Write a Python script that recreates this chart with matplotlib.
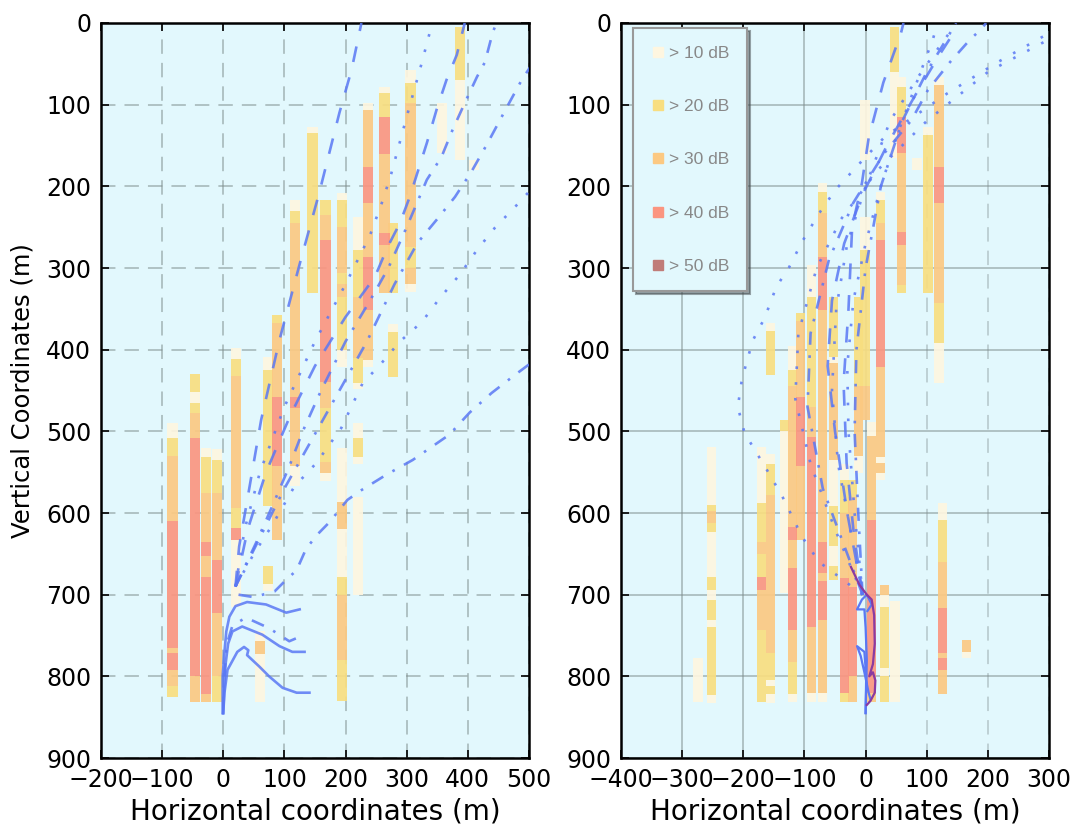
import matplotlib
matplotlib.use("Agg")
import matplotlib.pyplot as plt
from matplotlib.lines import Line2D

# dB level classes and their colours
levels = [1, 2, 3, 4, 5]
level_labels = ["> 10 dB", "> 20 dB", "> 30 dB", "> 40 dB", "> 50 dB"]
level_colors = ["#fef6e0", "#f8de80", "#fcc982", "#fb9580", "#c07c78"]

# left panel: column centres (m) and runs of (top depth, bottom depth, level)
left_col_x = [-83, -46, -28, -10, 21, 60, 73, 88, 117, 146, 167, 194, 220,
              237, 264, 278, 306, 358, 387, 410]
left_col_runs = [
    [(490, 508, 1), (508, 530, 2), (530, 610, 3), (610, 765, 4), (765, 772, 3),
     (772, 792, 4), (792, 812, 3), (812, 825, 2)],
    [(430, 452, 2), (452, 465, 1), (465, 478, 2), (478, 508, 3), (508, 800, 4),
     (800, 832, 3)],
    [(520, 532, 1), (532, 575, 2), (575, 636, 3), (636, 653, 4), (653, 678, 3),
     (678, 822, 4), (822, 832, 3)],
    [(522, 535, 1), (535, 575, 2), (575, 657, 3), (657, 722, 4), (722, 800, 3),
     (800, 832, 2)],
    [(398, 412, 1), (412, 432, 2), (432, 594, 3), (594, 618, 2), (618, 633, 4),
     (633, 715, 1)],
    [(745, 757, 1), (757, 773, 3), (773, 832, 1)],
    [(409, 425, 1), (425, 592, 2), (665, 687, 2), (687, 695, 1)],
    [(357, 367, 2), (367, 458, 3), (458, 543, 4), (543, 633, 3)],
    [(217, 230, 1), (230, 245, 2), (245, 458, 3), (458, 471, 4), (471, 543, 3),
     (543, 567, 1)],
    [(127, 135, 1), (135, 330, 2)],
    [(217, 235, 2), (235, 266, 3), (266, 440, 4), (440, 471, 3), (471, 537, 2),
     (537, 551, 3), (551, 561, 1)],
    [(208, 217, 1), (217, 250, 2), (250, 306, 3), (306, 320, 2), (320, 335, 3),
     (335, 400, 2), (400, 421, 1), (520, 587, 1), (587, 620, 3), (620, 678, 1),
     (678, 700, 2), (700, 780, 3), (780, 830, 2)],
    [(237, 278, 1), (278, 335, 2), (335, 410, 3), (410, 441, 2), (441, 448, 1),
     (490, 508, 1), (508, 531, 2), (531, 540, 1), (580, 700, 1)],
    [(98, 106, 1), (106, 176, 3), (176, 220, 4), (220, 286, 3), (286, 351, 4),
     (351, 413, 3), (413, 421, 1)],
    [(78, 86, 1), (86, 115, 2), (115, 160, 4), (160, 257, 3), (257, 272, 4),
     (272, 331, 3)],
    [(245, 331, 2), (368, 378, 1), (378, 433, 2)],
    [(58, 74, 1), (74, 98, 2), (98, 274, 3), (274, 300, 2), (300, 320, 3),
     (320, 329, 1)],
    [(98, 159, 1)],
    [(5, 70, 2), (70, 168, 1)],
    [(168, 180, 1)],
]

# right panel columns
right_col_x = [-274, -252, -170, -156, -132, -120, -106, -88, -70, -52, -34,
               -21, -11, -1, 9, 24, 31, 47, 48, 59, 84, 102, 120, 126, 165]
right_col_runs = [
    [(777, 831, 1)],
    [(519, 590, 1), (590, 598, 2), (598, 612, 3), (612, 623, 2), (623, 678, 1),
     (678, 694, 2), (694, 706, 1), (706, 731, 2), (731, 739, 1), (739, 823, 2),
     (823, 833, 1)],
    [(519, 588, 1), (588, 636, 2), (636, 650, 3), (650, 678, 2), (678, 694, 4),
     (694, 743, 3), (743, 831, 2)],
    [(367, 377, 1), (377, 431, 2), (528, 540, 1), (540, 578, 2), (578, 771, 3),
     (771, 804, 2), (804, 812, 1), (812, 822, 2), (822, 833, 1)],
    [(486, 500, 2), (500, 698, 1)],
    [(396, 425, 1), (425, 445, 2), (445, 617, 3), (617, 633, 4), (633, 667, 3),
     (667, 743, 4), (743, 783, 3), (783, 822, 2), (822, 832, 1)],
    [(355, 365, 2), (365, 458, 3), (458, 543, 4), (543, 633, 3)],
    [(296, 335, 1), (335, 470, 2), (470, 507, 3), (507, 740, 4), (740, 820, 3),
     (820, 832, 1)],
    [(196, 207, 1), (207, 233, 2), (233, 286, 3), (286, 351, 4), (351, 636, 3),
     (636, 673, 4), (673, 683, 3), (683, 731, 4), (731, 820, 3), (820, 832, 1)],
    [(335, 409, 2), (409, 416, 1), (416, 535, 3), (535, 592, 1), (592, 640, 2),
     (640, 665, 1), (665, 682, 2)],
    [(540, 560, 1), (560, 600, 2), (600, 680, 3), (680, 820, 4), (820, 832, 2)],
    [(560, 580, 2), (580, 690, 3), (690, 800, 4), (800, 832, 3)],
    [(335, 445, 2), (445, 530, 3), (530, 551, 1)],
    [(94, 168, 1), (238, 278, 1), (278, 445, 2), (445, 486, 3)],
    [(488, 506, 1), (506, 608, 3), (608, 820, 4), (820, 832, 3)],
    [(207, 217, 1), (217, 245, 2), (245, 266, 3), (266, 421, 4), (421, 531, 3),
     (531, 539, 1), (539, 551, 3), (551, 559, 1)],
    [(688, 700, 3), (700, 715, 1), (715, 790, 2), (790, 800, 1), (800, 831, 2)],
    [(5, 60, 2), (60, 165, 1)],
    [(708, 832, 1)],
    [(66, 78, 1), (78, 115, 2), (115, 159, 4), (159, 256, 3), (256, 272, 4),
     (272, 321, 3), (321, 330, 2)],
    [(165, 180, 1)],
    [(127, 137, 1), (137, 330, 2)],
    [(66, 76, 1), (76, 176, 3), (176, 220, 4), (220, 343, 3), (343, 392, 2),
     (392, 441, 1)],
    [(588, 608, 1), (608, 660, 2), (660, 716, 3), (716, 771, 4), (771, 777, 3),
     (777, 792, 4), (792, 822, 3)],
    [(755, 770, 3), (770, 778, 1)],
]

# ray paths, left panel
left_dashed1_x = [20, 26, 43, 62, 92, 124, 157, 190, 210, 226]
left_dashed1_y = [690, 641, 568, 486, 388, 298, 208, 110, 57, 0]
left_dotted1_x = [20, 35, 60, 100, 150, 200, 240, 261, 275, 300, 325, 338, 342]
left_dotted1_y = [690, 620, 550, 470, 390, 320, 260, 217, 184, 115, 48, 11, 0]
left_dashed2_x = [20, 40, 70, 110, 150, 200, 248, 269, 289, 305, 333, 349, 365, 382, 395]
left_dashed2_y = [690, 620, 550, 480, 420, 360, 311, 274, 245, 213, 147, 106, 70, 39, 0]
left_dashdot1_x = [20, 54, 80, 108, 130, 160, 200, 240, 270, 300, 333, 357, 375, 395, 415, 428, 441, 447]
left_dashdot1_y = [690, 636, 592, 543, 500, 450, 390, 340, 300, 250, 192, 164, 131, 98, 66, 48, 11, 0]
left_dashdot2_x = [20, 60, 100, 145, 190, 235, 280, 318, 349, 379, 406, 431, 464, 488, 502]
left_dashdot2_y = [690, 630, 570, 510, 450, 390, 320, 269, 241, 213, 182, 149, 103, 70, 54]
left_dotted2_x = [20, 50, 80, 116, 152, 193, 228, 256, 289, 325, 354, 387, 415, 444, 480, 502]
left_dotted2_y = [690, 650, 615, 568, 539, 496, 441, 419, 390, 366, 337, 308, 278, 251, 223, 205]
left_dashdot3_x = [25, 50, 84, 100, 120, 136, 157, 174, 203, 226, 267, 310, 370, 403, 439, 477, 502]
left_dashdot3_y = [700, 703, 696, 684, 670, 643, 624, 611, 584, 572, 553, 535, 504, 477, 453, 431, 417]

# near-source curves, left panel
left_curve1_x = [-1, -1, 2, 5, 10, 20, 39, 70, 103, 125]
left_curve1_y = [845, 800, 770, 745, 727, 714, 709, 712, 722, 718]
left_curve2_x = [2, 6, 15, 37, 75, 108, 130]
left_curve2_y = [800, 760, 738, 728, 741, 757, 750]
left_curve3_x = [0, 3, 8, 15, 31, 64, 92, 113, 133]
left_curve3_y = [845, 790, 760, 745, 739, 749, 763, 770, 770]
left_curve4_x = [0, 2, 7, 23, 34, 41, 39, 59, 75, 97, 120, 141]
left_curve4_y = [845, 820, 792, 770, 764, 768, 774, 788, 800, 814, 820, 820]

# ray paths, right panel
right_dashed1_x = [-5, -20, -31, -36, -28, -22, -6, 5, 29, 58, 62]
right_dashed1_y = [700, 620, 539, 441, 351, 250, 196, 141, 73, 12, 0]
right_dotted1_x = [-5, -25, -45, -55, -48, -30, 0, 40, 86, 113, 143, 148]
right_dotted1_y = [700, 620, 540, 450, 350, 270, 200, 120, 66, 37, 6, 0]
right_dashdot1_x = [-5, -35, -70, -95, -90, -60, -20, 30, 75, 102, 138, 170, 191, 197]
right_dashdot1_y = [700, 640, 570, 470, 380, 290, 220, 160, 119, 82, 48, 21, 6, 0]
right_dotted2_x = [-5, -40, -76, -104, -136, -160, -198, -209, -203, -195, -184, -165,
                   -146, -125, -104, -76, -49, 0, 32, 134, 216, 301]
right_dotted2_y = [700, 680, 660, 629, 580, 549, 502, 470, 440, 416, 388, 361,
                   323, 299, 268, 233, 204, 164, 139, 86, 48, 12]
right_dashdot2_x = [-5, -12, -18, -15, 0, 25, 60, 100, 140]
right_dashdot2_y = [700, 600, 500, 400, 300, 200, 120, 60, 10]
right_dotted3_x = [-5, -50, -90, -115, -110, -80, -40, 20, 100, 200, 300]
right_dotted3_y = [700, 620, 540, 460, 380, 300, 240, 180, 120, 60, 20]
right_dashed2_x = [-5, -30, -50, -62, -55, -35, -5, 35, 80, 120, 150]
right_dashed2_y = [700, 600, 500, 420, 340, 270, 210, 150, 90, 40, 5]
right_dotted4_x = [-5, -18, -28, -30, -20, 0, 25, 55, 90, 110, 118]
right_dotted4_y = [700, 600, 500, 420, 340, 270, 200, 130, 60, 20, 0]

# near-source curves, right panel
right_curve1_x = [0, 1, -2, -14, -8, -2, 5, 8]
right_curve1_y = [845, 800, 770, 763, 775, 795, 820, 828]
right_curve2_x = [0, 2, 0, -2, -14, -6, 2, 10, 3]
right_curve2_y = [845, 780, 740, 718, 718, 706, 700, 712, 720]
right_curve3_x = [-24, -10, 2, 10, 14, 15, 12, 6, 12, 16, 15, 8, 2]
right_curve3_y = [666, 688, 700, 706, 725, 760, 785, 800, 795, 805, 820, 830, 835]

BG = "#e2f8fd"
RAY = "#5a78f4"
DASHED = (0, (6, 6))
DOTTED = (0, (1, 5))
DASHDOT = (0, (5, 4, 1, 4))


def draw_cells(ax, col_x, col_runs, width):
    for lvl, color in zip(levels, level_colors):
        xs, hs, bs = [], [], []
        for x, runs in zip(col_x, col_runs):
            for y0, y1, l in runs:
                if l == lvl:
                    xs.append(x)
                    hs.append(y1 - y0)
                    bs.append(y0)
        ax.bar(xs, hs, bottom=bs, width=width, color=color, edgecolor="none",
               alpha=0.92, zorder=2)


def style_axes(ax, xlim, grid_ls):
    ax.set_facecolor(BG)
    ax.set_xlim(*xlim)
    ax.set_ylim(900, 0)
    ax.set_xticks(range(xlim[0], xlim[1] + 1, 100))
    ax.set_yticks(range(0, 901, 100))
    ax.set_axisbelow(True)
    ax.grid(True, color="#7f8e8e", ls=grid_ls, lw=1.3, alpha=0.55)
    ax.tick_params(direction="in", top=True, right=True, length=6, width=1.2,
                   labelsize=17, pad=7)
    for s in ax.spines.values():
        s.set_linewidth(1.8)
    ax.set_xlabel("Horizontal coordinates (m)", fontsize=20, labelpad=4)


fig = plt.figure(figsize=(10.81, 8.27), dpi=100)
ax1 = fig.add_axes([0.0934, 0.0834, 0.3959, 0.8888])
ax2 = fig.add_axes([0.5745, 0.0834, 0.3959, 0.8888])

style_axes(ax1, (-200, 500), (0, (8, 5)))
style_axes(ax2, (-400, 300), "-")
ax1.set_ylabel("Vertical Coordinates (m)", fontsize=17.5, labelpad=8)

# right panel: x grid lines right of zero are dashed and lighter
for gl, tx in zip(ax2.xaxis.get_gridlines(), ax2.get_xticks()):
    if tx > 0:
        gl.set_linestyle((0, (8, 5)))
        gl.set_alpha(0.4)

draw_cells(ax1, left_col_x, left_col_runs, 17)
draw_cells(ax2, right_col_x, right_col_runs, 15)

kw = dict(color=RAY, lw=1.9, alpha=0.85, zorder=3)
ax1.plot(left_dashed1_x, left_dashed1_y, ls=DASHED, **kw)
ax1.plot(left_dotted1_x, left_dotted1_y, ls=DOTTED, **kw)
ax1.plot(left_dashed2_x, left_dashed2_y, ls=DASHED, **kw)
ax1.plot(left_dashdot1_x, left_dashdot1_y, ls=DASHDOT, **kw)
ax1.plot(left_dashdot2_x, left_dashdot2_y, ls=DASHDOT, **kw)
ax1.plot(left_dotted2_x, left_dotted2_y, ls=DOTTED, **kw)
ax1.plot(left_dashdot3_x, left_dashdot3_y, ls=DASHDOT, **kw)
ax1.plot(left_curve1_x, left_curve1_y, ls="-", **kw)
ax1.plot(left_curve2_x, left_curve2_y, ls=DASHDOT, **kw)
ax1.plot(left_curve3_x, left_curve3_y, ls="-", **kw)
ax1.plot(left_curve4_x, left_curve4_y, ls="-", **kw)

ax2.plot(right_dashed1_x, right_dashed1_y, ls=DASHED, **kw)
ax2.plot(right_dotted1_x, right_dotted1_y, ls=DOTTED, **kw)
ax2.plot(right_dashdot1_x, right_dashdot1_y, ls=DASHDOT, **kw)
ax2.plot(right_dotted2_x, right_dotted2_y, ls=DOTTED, **kw)
ax2.plot(right_dashdot2_x, right_dashdot2_y, ls=DASHDOT, **kw)
ax2.plot(right_dotted3_x, right_dotted3_y, ls=DOTTED, **kw)
ax2.plot(right_dashed2_x, right_dashed2_y, ls=DASHED, **kw)
ax2.plot(right_dotted4_x, right_dotted4_y, ls=DOTTED, **kw)
ax2.plot(right_curve1_x, right_curve1_y, ls="-", color=RAY, lw=1.6, zorder=3)
ax2.plot(right_curve2_x, right_curve2_y, ls="-", color=RAY, lw=1.6, zorder=3)
ax2.plot(right_curve3_x, right_curve3_y, ls="-", color="#8a3aa0", lw=1.6, zorder=3)

handles = [Line2D([], [], marker="s", ls="", color=c, markersize=6.5)
           for c in level_colors]
leg = ax2.legend(handles, level_labels, loc="upper left",
                 bbox_to_anchor=(0.028, 0.993), borderaxespad=0,
                 prop={"family": "Liberation Sans", "size": 12.5},
                 labelcolor="#888888", labelspacing=2.2, borderpad=1.0,
                 handlelength=0.9, handletextpad=0.2, shadow=True,
                 fancybox=False, framealpha=1)
leg.get_frame().set_facecolor(BG)
leg.get_frame().set_edgecolor("#999999")
leg.get_frame().set_linewidth(1.5)

fig.savefig("out.png", dpi=100)
